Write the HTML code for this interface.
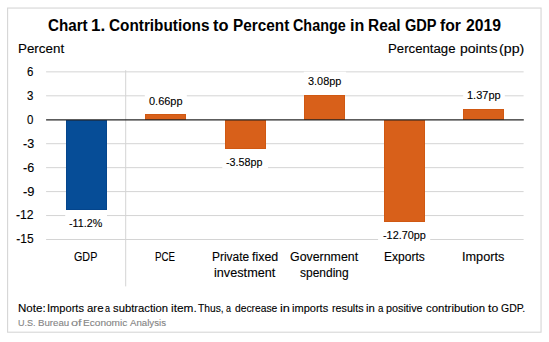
<!DOCTYPE html>
<html><head><meta charset="utf-8"><style>
html,body{margin:0;padding:0;background:#fff;}
body{width:549px;height:342px;position:relative;overflow:hidden;font-family:"Liberation Sans",sans-serif;color:#000;}
.t{position:absolute;white-space:nowrap;line-height:1;transform-origin:0 0;-webkit-text-stroke:0.12px currentColor;}
.b{-webkit-text-stroke:0;}
.b{font-weight:bold;}
svg{position:absolute;left:0;top:0;}
</style></head><body>
<svg width="549" height="342" viewBox="0 0 549 342">
<rect x="7.6" y="8.05" width="533.45" height="324.15" fill="none" stroke="#d6d6d6" stroke-width="1.1"/>
<line x1="46.1" x2="523.6" y1="71.85" y2="71.85" stroke="#d4d4d4" stroke-width="1"/>
<line x1="46.1" x2="523.6" y1="95.80" y2="95.80" stroke="#d4d4d4" stroke-width="1"/>
<line x1="46.1" x2="523.6" y1="143.70" y2="143.70" stroke="#d4d4d4" stroke-width="1"/>
<line x1="46.1" x2="523.6" y1="167.65" y2="167.65" stroke="#d4d4d4" stroke-width="1"/>
<line x1="46.1" x2="523.6" y1="191.60" y2="191.60" stroke="#d4d4d4" stroke-width="1"/>
<line x1="46.1" x2="523.6" y1="215.55" y2="215.55" stroke="#d4d4d4" stroke-width="1"/>
<line x1="46.1" x2="523.6" y1="239.50" y2="239.50" stroke="#d4d4d4" stroke-width="1"/>
<line x1="125.7" x2="125.7" y1="70.2" y2="286.4" stroke="#d4d4d4" stroke-width="1"/>
<rect x="66.5" y="120.5" width="40" height="89" fill="#064d97" stroke="#04458c" stroke-width="1"/>
<rect x="145.5" y="114.5" width="40" height="5" fill="#d8601a" stroke="#d05812" stroke-width="1"/>
<rect x="225.5" y="120.5" width="40" height="28" fill="#d8601a" stroke="#d05812" stroke-width="1"/>
<rect x="304.5" y="95.5" width="40" height="24" fill="#d8601a" stroke="#d05812" stroke-width="1"/>
<rect x="384.5" y="120.5" width="40" height="101" fill="#d8601a" stroke="#d05812" stroke-width="1"/>
<rect x="463.5" y="109.5" width="40" height="10" fill="#d8601a" stroke="#d05812" stroke-width="1"/>
<line x1="46.1" x2="523.8" y1="119.8" y2="119.8" stroke="#262626" stroke-width="1.2"/>
<rect x="65.20" y="213.70" width="41.80" height="16" fill="#fff"/>
<rect x="144.80" y="91.70" width="42.00" height="16" fill="#fff"/>
<rect x="222.30" y="152.70" width="45.70" height="16" fill="#fff"/>
<rect x="303.80" y="71.70" width="42.30" height="16" fill="#fff"/>
<rect x="378.10" y="225.70" width="52.10" height="16" fill="#fff"/>
<rect x="463.20" y="85.70" width="41.60" height="16" fill="#fff"/>
</svg>
<div class="t b" style="left:47.69px;top:18px;font-size:16.0px;transform:scaleX(0.9497);color:#000">Chart</div>
<div class="t b" style="left:91.13px;top:18px;font-size:16.0px;transform:scaleX(1.0667);color:#000">1.</div>
<div class="t b" style="left:108.58px;top:18px;font-size:16.0px;transform:scaleX(0.9575);color:#000">Contributions</div>
<div class="t b" style="left:213.04px;top:18px;font-size:16.0px;transform:scaleX(1.0246);color:#000">to</div>
<div class="t b" style="left:233.04px;top:18px;font-size:16.0px;transform:scaleX(0.9583);color:#000">Percent</div>
<div class="t b" style="left:293.43px;top:18px;font-size:16.0px;transform:scaleX(0.8978);color:#000">Change</div>
<div class="t b" style="left:350.40px;top:18px;font-size:16.0px;transform:scaleX(1.0041);color:#000">in</div>
<div class="t b" style="left:368.24px;top:18px;font-size:16.0px;transform:scaleX(0.9638);color:#000">Real</div>
<div class="t b" style="left:404.62px;top:18px;font-size:16.0px;transform:scaleX(0.9113);color:#000">GDP</div>
<div class="t b" style="left:440.15px;top:18px;font-size:16.0px;transform:scaleX(0.9831);color:#000">for</div>
<div class="t b" style="left:466.21px;top:18px;font-size:16.0px;transform:scaleX(0.9826);color:#000">2019</div>
<div class="t" style="left:17.78px;top:43px;font-size:12.0px;transform:scaleX(1.1155);color:#000">Percent</div>
<div class="t" style="left:388.20px;top:43px;font-size:12.0px;transform:scaleX(1.0996);color:#000">Percentage</div>
<div class="t" style="left:459.62px;top:43px;font-size:12.0px;transform:scaleX(1.1675);color:#000">points</div>
<div class="t" style="left:499.11px;top:43px;font-size:12.0px;transform:scaleX(1.1850);color:#000">(pp)</div>
<div class="t" style="left:69.22px;top:218px;font-size:11.25px;transform:scaleX(0.9529);color:#000">-11.2%</div>
<div class="t" style="left:148.51px;top:96px;font-size:11.25px;transform:scaleX(0.9761);color:#000">0.66pp</div>
<div class="t" style="left:226.42px;top:157px;font-size:11.25px;transform:scaleX(0.9584);color:#000">-3.58pp</div>
<div class="t" style="left:307.51px;top:76px;font-size:11.25px;transform:scaleX(0.9701);color:#000">3.08pp</div>
<div class="t" style="left:382.52px;top:230px;font-size:11.25px;transform:scaleX(0.9655);color:#000">-12.70pp</div>
<div class="t" style="left:466.87px;top:90px;font-size:11.25px;transform:scaleX(0.9774);color:#000">1.37pp</div>
<div class="t" style="left:74.45px;top:251px;font-size:12.0px;transform:scaleX(0.8960);color:#000">GDP</div>
<div class="t" style="left:155.29px;top:251px;font-size:12.0px;transform:scaleX(0.8129);color:#000">PCE</div>
<div class="t" style="left:211.50px;top:251px;font-size:12.0px;transform:scaleX(0.9958);color:#000">Private</div>
<div class="t" style="left:252.44px;top:251px;font-size:12.0px;transform:scaleX(1.0351);color:#000">fixed</div>
<div class="t" style="left:214.01px;top:267px;font-size:12.0px;transform:scaleX(1.0568);color:#000">investment</div>
<div class="t" style="left:289.88px;top:251px;font-size:12.0px;transform:scaleX(1.0321);color:#000">Government</div>
<div class="t" style="left:300.10px;top:267px;font-size:12.0px;transform:scaleX(0.9979);color:#000">spending</div>
<div class="t" style="left:383.60px;top:251px;font-size:12.0px;transform:scaleX(1.0013);color:#000">Exports</div>
<div class="t" style="left:462.24px;top:251px;font-size:12.0px;transform:scaleX(1.0571);color:#000">Imports</div>
<div class="t" style="left:17.52px;top:303px;font-size:11.25px;transform:scaleX(1.0283);color:#000">Note:</div>
<div class="t" style="left:47.21px;top:303px;font-size:11.25px;transform:scaleX(0.9861);color:#000">Imports</div>
<div class="t" style="left:87.29px;top:303px;font-size:11.25px;transform:scaleX(1.0164);color:#000">are</div>
<div class="t" style="left:105.20px;top:303px;font-size:11.25px;transform:scaleX(0.8000);color:#000">a</div>
<div class="t" style="left:112.80px;top:303px;font-size:11.25px;transform:scaleX(1.0009);color:#000">subtraction</div>
<div class="t" style="left:170.81px;top:303px;font-size:11.25px;transform:scaleX(1.0533);color:#000">item.</div>
<div class="t" style="left:198.27px;top:303px;font-size:11.25px;transform:scaleX(0.9111);color:#000">Thus,</div>
<div class="t" style="left:226.35px;top:303px;font-size:11.25px;transform:scaleX(0.7913);color:#000">a</div>
<div class="t" style="left:234.94px;top:303px;font-size:11.25px;transform:scaleX(0.9149);color:#000">decrease</div>
<div class="t" style="left:280.05px;top:303px;font-size:11.25px;transform:scaleX(1.1310);color:#000">in</div>
<div class="t" style="left:292.06px;top:303px;font-size:11.25px;transform:scaleX(0.9818);color:#000">imports</div>
<div class="t" style="left:331.69px;top:303px;font-size:11.25px;transform:scaleX(0.9531);color:#000">results</div>
<div class="t" style="left:365.84px;top:303px;font-size:11.25px;transform:scaleX(1.0069);color:#000">in</div>
<div class="t" style="left:377.57px;top:303px;font-size:11.25px;transform:scaleX(0.8696);color:#000">a</div>
<div class="t" style="left:386.38px;top:303px;font-size:11.25px;transform:scaleX(0.9595);color:#000">positive</div>
<div class="t" style="left:425.69px;top:303px;font-size:11.25px;transform:scaleX(1.0158);color:#000">contribution</div>
<div class="t" style="left:488.28px;top:303px;font-size:11.25px;transform:scaleX(1.0914);color:#000">to</div>
<div class="t" style="left:500.83px;top:303px;font-size:11.25px;transform:scaleX(0.9306);color:#000">GDP.</div>
<div class="t" style="left:18.40px;top:318px;font-size:9.75px;transform:scaleX(0.9275);color:#858585">U.S.</div>
<div class="t" style="left:38.05px;top:318px;font-size:9.75px;transform:scaleX(0.9933);color:#858585">Bureau</div>
<div class="t" style="left:71.01px;top:318px;font-size:9.75px;transform:scaleX(1.3000);color:#858585">of</div>
<div class="t" style="left:83.22px;top:318px;font-size:9.75px;transform:scaleX(1.0347);color:#858585">Economic</div>
<div class="t" style="left:130.10px;top:318px;font-size:9.75px;transform:scaleX(0.9917);color:#858585">Analysis</div>
<div class="t" style="left:27.32px;top:66px;font-size:12.0px;transform:scaleX(0.9565);color:#000">6</div>
<div class="t" style="left:27.32px;top:90px;font-size:12.0px;transform:scaleX(0.9565);color:#000">3</div>
<div class="t" style="left:27.32px;top:114px;font-size:12.0px;transform:scaleX(0.9565);color:#000">0</div>
<div class="t" style="left:22.58px;top:138px;font-size:12.0px;transform:scaleX(1.0462);color:#000">-3</div>
<div class="t" style="left:22.58px;top:162px;font-size:12.0px;transform:scaleX(1.0462);color:#000">-6</div>
<div class="t" style="left:22.56px;top:186px;font-size:12.0px;transform:scaleX(1.0737);color:#000">-9</div>
<div class="t" style="left:16.29px;top:209px;font-size:12.0px;transform:scaleX(1.0154);color:#000">-12</div>
<div class="t" style="left:16.30px;top:233px;font-size:12.0px;transform:scaleX(1.0000);color:#000">-15</div>
</body></html>
